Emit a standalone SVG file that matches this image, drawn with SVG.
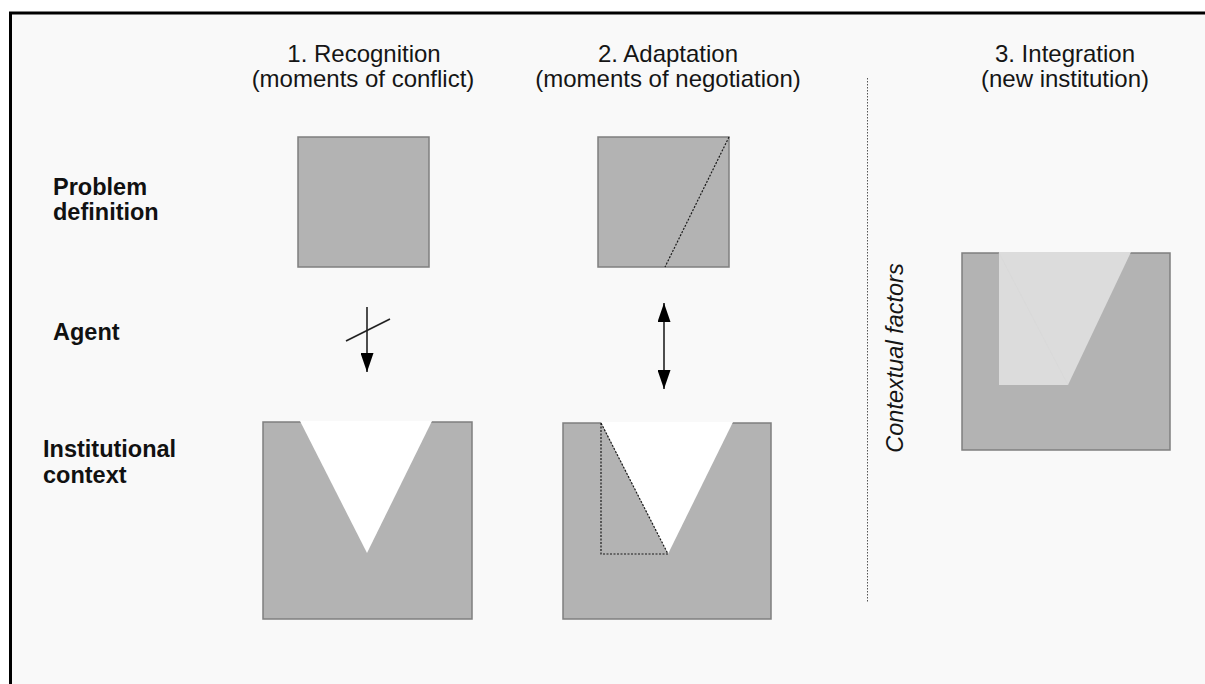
<svg xmlns="http://www.w3.org/2000/svg" width="1205" height="684" viewBox="0 0 1205 684">
<defs>
<style>
.hdr{font-family:"Liberation Sans",Arial,sans-serif;font-size:24px;fill:#151515;text-anchor:middle}
.lbl{font-family:"Liberation Sans",Arial,sans-serif;font-size:23.5px;font-weight:bold;fill:#111}
.box{fill:#b3b3b3;stroke:#7f7f7f;stroke-width:1.5}
.hole{fill:#ffffff;stroke:none}
.dot{fill:none;stroke:#1a1a1a;stroke-width:1.2;stroke-dasharray:2 1.5}
.arr{stroke:#222;stroke-width:1.6;fill:none}
</style>
<marker id="ah" viewBox="0 0 19 13" refX="19" refY="6.5" markerWidth="19" markerHeight="13" markerUnits="userSpaceOnUse" orient="auto-start-reverse">
<path d="M0,0 L19,6.5 L0,13 z" fill="#000"/>
</marker>
</defs>
<rect x="0" y="0" width="1205" height="684" fill="#ffffff"/>
<rect x="10.5" y="13" width="1300" height="800" fill="#f9f9f9" stroke="#000" stroke-width="3"/>

<g id="headers">
<text class="hdr" x="364" y="62">1. Recognition</text>
<text class="hdr" x="363" y="87">(moments of conflict)</text>
<text class="hdr" x="668" y="62">2. Adaptation</text>
<text class="hdr" x="668" y="87">(moments of negotiation)</text>
<text class="hdr" x="1065" y="62">3. Integration</text>
<text class="hdr" x="1065" y="87">(new institution)</text>
</g>

<g id="row-labels">
<text class="lbl" x="53" y="195">Problem</text>
<text class="lbl" x="53" y="220">definition</text>
<text class="lbl" x="53" y="340">Agent</text>
<text class="lbl" x="43" y="457">Institutional</text>
<text class="lbl" x="43" y="483">context</text>
</g>

<g id="problem-recognition">
<rect class="box" x="298" y="137" width="131" height="130"/>
</g>

<g id="problem-adaptation">
<rect class="box" x="598" y="137" width="131" height="130"/>
<line class="dot" x1="729" y1="137" x2="665" y2="267"/>
</g>

<g id="context-recognition">
<rect class="box" x="263" y="422" width="209" height="197"/>
<polygon class="hole" points="300,421 432,421 367,553"/>
</g>

<g id="context-adaptation">
<rect class="box" x="563" y="423" width="208" height="196"/>
<polygon class="hole" points="601,422 733,422 668,554"/>
<polyline class="dot" points="601,423 601,554 668,554 601,423"/>
</g>

<g id="new-institution">
<rect class="box" x="962" y="253" width="208" height="197"/>
<polygon points="999,252 1131,252 1068,385 999,385" fill="#dcdcdc"/>
<line x1="999" y1="253" x2="1068" y2="385" stroke="#d8d8d8" stroke-width="0.8"/>
</g>

<g id="contextual-factors">
<line x1="867.5" y1="78" x2="867.5" y2="603" stroke="#555" stroke-width="1" stroke-dasharray="1.5 1.5"/>
<text x="0" y="0" transform="translate(903,358) rotate(-90)" font-family="'Liberation Sans',Arial,sans-serif" font-size="23.5" font-style="italic" fill="#151515" text-anchor="middle">Contextual factors</text>
</g>

<g id="connectors">
<line class="arr" x1="367" y1="307" x2="367" y2="372" marker-end="url(#ah)"/>
<line class="arr" x1="346" y1="341" x2="390" y2="319"/>
<line class="arr" x1="664" y1="303" x2="664" y2="389" marker-start="url(#ah)" marker-end="url(#ah)"/>
</g>
</svg>
